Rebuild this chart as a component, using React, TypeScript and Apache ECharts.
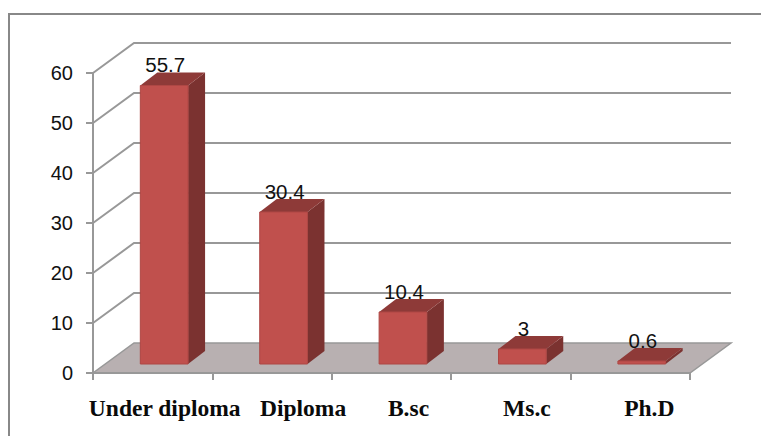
import React, { useEffect, useRef } from "react";
import * as echarts from "echarts";

const categories = ["Under diploma", "Diploma", "B.sc", "Ms.c", "Ph.D"];
const values = [55.7, 30.4, 10.4, 3, 0.6];
const wallTicks = [10, 20, 30, 40, 50, 60];
const labelShift = [12, 31, 17, 16, 19];

const GRID = { left: 93, top: 73, width: 597, height: 300 };
const WALL_DX = 41;
const WALL_DY = -30;
const BAR_SHIFT_X = 11.5;
const BAR_SHIFT_Y = -9;
const BAR_DX = 17;
const BAR_DY = -13;
const LINE = "#989898";

export default function App() {
  const ref = useRef<HTMLDivElement>(null);
  useEffect(() => {
    document.body.style.margin = "0";
    const chart = echarts.init(ref.current!, null, { renderer: "svg" });
    const rich: any = {};
    categories.forEach((_, i) => {
      rich["c" + i] = {
        fontFamily: "Liberation Serif",
        fontWeight: "bold",
        fontSize: 23.5,
        color: "#0a0a0a",
        padding: [0, 0, 0, labelShift[i] * 2],
      };
    });
    chart.setOption({
      animation: false,
      backgroundColor: "#fff",
      graphic: [
        {
          type: "polyline",
          silent: true,
          shape: { points: [[9, 437], [9, 14], [762, 14]] },
          style: { stroke: "#888888", lineWidth: 2, fill: "none" },
        },
      ],
      grid: { ...GRID },
      xAxis: {
        type: "category",
        data: categories,
        z: 3,
        axisLine: { lineStyle: { color: LINE, width: 2 } },
        axisTick: { show: true, length: 7, lineStyle: { color: LINE, width: 2 } },
        splitLine: { show: false },
        axisLabel: {
          margin: 23,
          interval: 0,
          hideOverlap: false,
          formatter: (v: string) => `{c${categories.indexOf(v)}|${v}}`,
          rich,
        },
      },
      yAxis: {
        type: "value",
        min: 0,
        max: 60,
        interval: 10,
        z: 3,
        splitLine: { show: false },
        axisLine: { show: true, lineStyle: { color: LINE, width: 2 } },
        axisTick: { show: true, length: 7, lineStyle: { color: LINE, width: 2 } },
        axisLabel: {
          margin: 20,
          fontFamily: "Liberation Sans",
          fontSize: 20,
          lineHeight: 22,
          color: "#111111",
        },
      },
      series: [
        {
          type: "custom",
          name: "floor",
          z: 1,
          silent: true,
          data: [0],
          encode: { x: -1, y: 0 },
          renderItem: (params: any) => {
            const g = params.coordSys;
            const b = g.y + g.height;
            return {
              type: "polygon",
              shape: {
                points: [
                  [g.x, b],
                  [g.x + g.width, b],
                  [g.x + g.width + WALL_DX, b + WALL_DY],
                  [g.x + WALL_DX, b + WALL_DY],
                ],
              },
              style: { fill: "#b8b0b1", stroke: LINE, lineWidth: 1.5 },
            };
          },
        },
        {
          type: "custom",
          name: "walls",
          z: 1,
          silent: true,
          data: wallTicks.map((v) => [0, v]),
          encode: { x: 0, y: 1 },
          renderItem: (params: any, api: any) => {
            const g = params.coordSys;
            const y = api.coord([0, api.value(1)])[1];
            const style = { stroke: LINE, lineWidth: 2, fill: "none" };
            return {
              type: "polyline",
              shape: {
                points: [
                  [g.x, y],
                  [g.x + WALL_DX, y + WALL_DY],
                  [g.x + g.width + WALL_DX, y + WALL_DY],
                ],
              },
              style,
            };
          },
        },
        {
          type: "custom",
          name: "bars",
          z: 4,
          data: values.map((v, i) => [i, v]),
          encode: { x: 0, y: 1 },
          renderItem: (_: any, api: any) => {
            const top = api.coord([api.value(0), api.value(1)]);
            const base = api.coord([api.value(0), 0]);
            const w = api.size([1, 0])[0] * 0.4;
            const x0 = top[0] + BAR_SHIFT_X - w / 2;
            const x1 = x0 + w;
            const y0 = top[1] + BAR_SHIFT_Y;
            const y1 = base[1] + BAR_SHIFT_Y;
            return {
              type: "group",
              children: [
                {
                  type: "polygon",
                  shape: { points: [[x1, y0], [x1 + BAR_DX, y0 + BAR_DY], [x1 + BAR_DX, y1 + BAR_DY], [x1, y1]] },
                  style: { fill: "#7b3230" },
                },
                {
                  type: "polygon",
                  shape: { points: [[x0, y0], [x0 + BAR_DX, y0 + BAR_DY], [x1 + BAR_DX, y0 + BAR_DY], [x1, y0]] },
                  style: { fill: "#8e3a38" },
                },
                {
                  type: "rect",
                  shape: { x: x0, y: y0, width: w, height: y1 - y0 },
                  style: { fill: "#c0504d", stroke: "#ae4744", lineWidth: 1 },
                },
                {
                  type: "text",
                  x: (x0 + x1) / 2 + 1,
                  y: y0 + BAR_DY - 8,
                  style: {
                    text: String(api.value(1)),
                    font: "20.5px 'Liberation Sans'",
                    fill: "#111111",
                    textAlign: "center",
                    textVerticalAlign: "middle",
                  },
                },
              ],
            };
          },
        },
      ],
    });
    return () => chart.dispose();
  }, []);
  return <div ref={ref} style={{ width: 761, height: 436 }} />;
}
